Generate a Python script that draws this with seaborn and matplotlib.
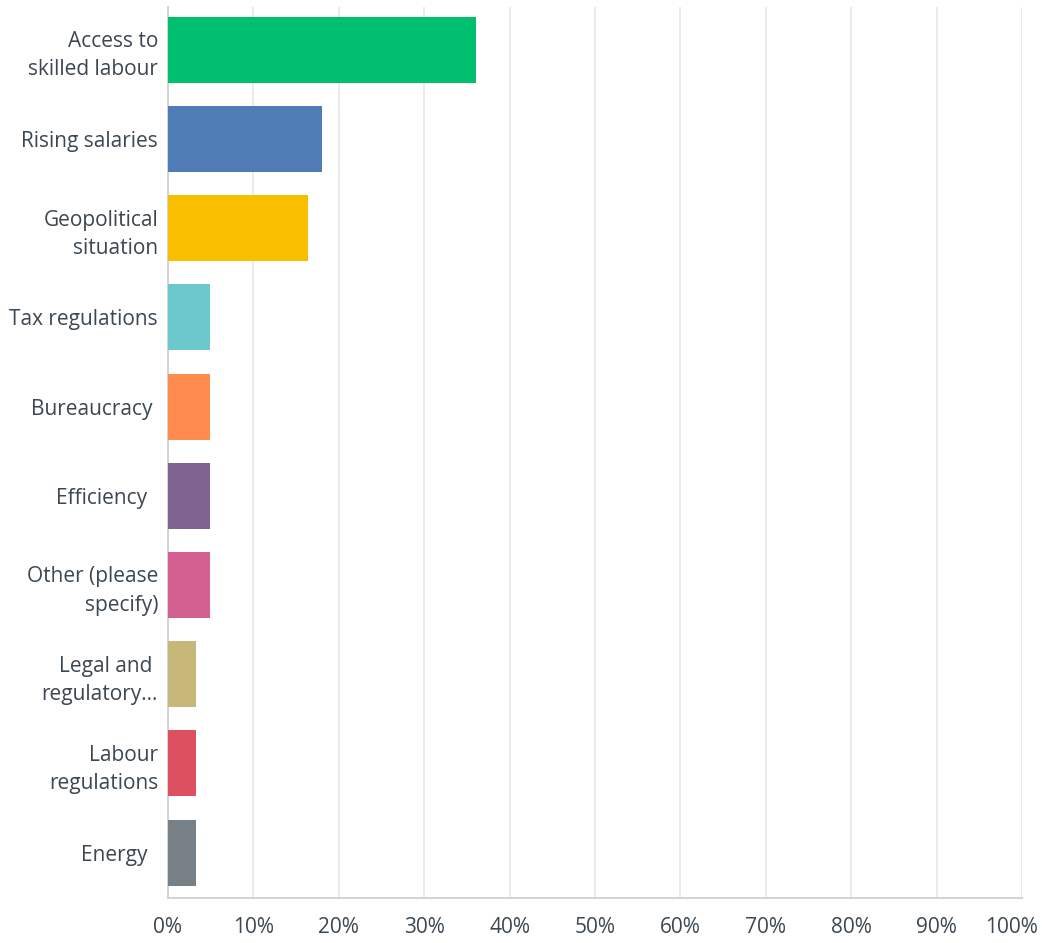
import numpy as np
import matplotlib.pyplot as plt
import matplotlib.transforms as mtransforms
import seaborn as sns
import pandas as pd

# answer choices, top to bottom
labels = ["Access to\nskilled labour", "Rising salaries", "Geopolitical\nsituation",
          "Tax regulations", "Bureaucracy ", "Efficiency  ", "Other (please\nspecify)",
          "Legal and \nregulatory...", "Labour\nregulations", "Energy  "]
percent = [36.07, 18.03, 16.39, 4.92, 4.92, 4.92, 4.92, 3.28, 3.28, 3.28]
colors = ["#00BF6F", "#507CB6", "#F9BE00", "#6BC8CD", "#FF8B4F",
          "#7F6391", "#D25F90", "#C7B879", "#DC5060", "#788087"]
ticks = [0, 10, 20, 30, 40, 50, 60, 70, 80, 90, 100]

text_color = "#3B4752"

sns.set_style("white")
plt.rcParams["font.family"] = ["Open Sans", "DejaVu Sans"]

data = pd.DataFrame({"label": labels, "percent": percent})

fig = plt.figure(figsize=(10.42, 9.43), dpi=100)
ax = fig.add_axes([0.161, 0.0477, 0.82, 0.945])

sns.barplot(data=data, y="label", x="percent", hue="label", palette=colors,
            legend=False, width=0.74, saturation=1, linewidth=0, ax=ax, zorder=3)

ax.set_xlim(0, 100)
ax.set_ylim(9.51, -0.48)
ax.set_xticks(ticks)
ax.set_xticklabels([f"{t}%" for t in ticks])
ax.set_xlabel("")
ax.set_ylabel("")

ax.grid(axis="x", color="#E9E9E9", linewidth=1.3, zorder=0)
ax.tick_params(axis="both", length=0, labelsize=15, colors=text_color)
ax.tick_params(axis="x", pad=14)
ax.tick_params(axis="y", pad=7)
for lab in ax.get_yticklabels():
    lab.set_multialignment("right")
    lab.set_linespacing(1.45)

# keep the 100% label inside the figure, as in the original
last = ax.get_xticklabels()[-1]
last.set_transform(last.get_transform() + mtransforms.ScaledTranslation(-0.11, 0, fig.dpi_scale_trans))

for side in ["top", "right"]:
    ax.spines[side].set_visible(False)
for side in ["left", "bottom"]:
    ax.spines[side].set_color("#D0D0D0")
    ax.spines[side].set_linewidth(1.3)

plt.savefig("out.png", dpi=100)
